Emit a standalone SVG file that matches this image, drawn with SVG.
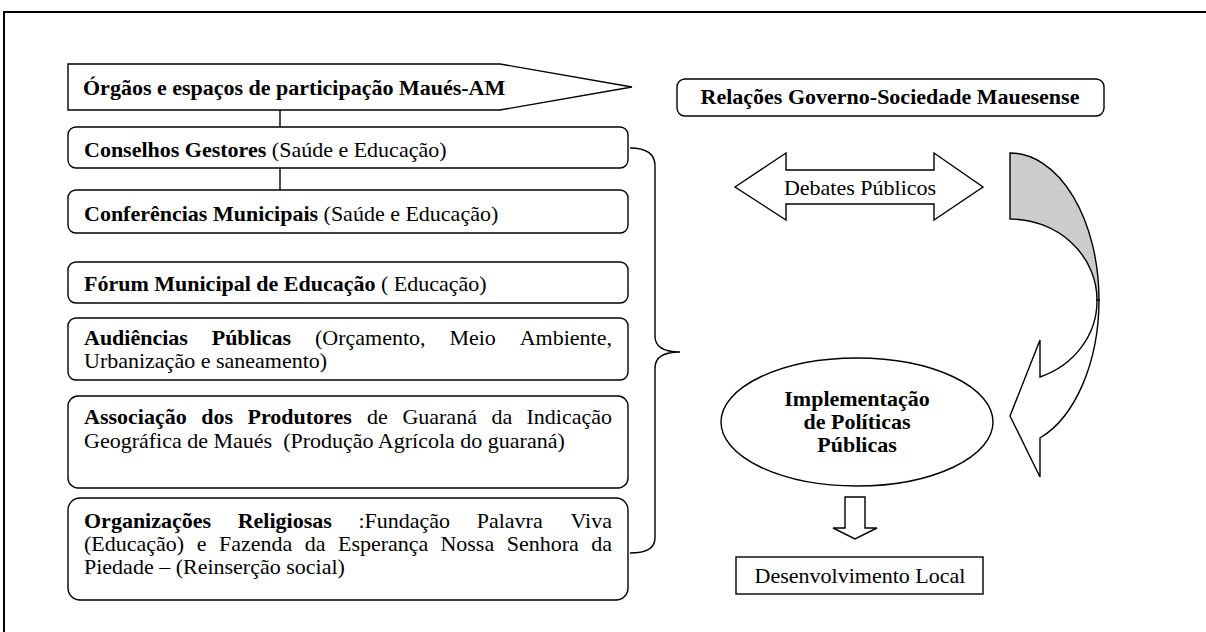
<svg xmlns="http://www.w3.org/2000/svg" width="1206" height="632" viewBox="0 0 1206 632">
<style>
.box{fill:#fff;stroke:#000;stroke-width:1.4}
.ln{fill:none;stroke:#000;stroke-width:1.4}
.t{font-family:"Liberation Serif","Times New Roman",serif;font-size:22px;fill:#000}
.b{font-weight:bold}
.c{text-anchor:middle}
.e{text-anchor:end}
</style>
<rect width="1206" height="632" fill="#fff"/>
<path d="M4,632 L4,12 L1206,12" fill="none" stroke="#000" stroke-width="2"/>

<g id="connectors">
<line class="ln" x1="280" y1="110" x2="280" y2="127"/>
<line class="ln" x1="280" y1="168" x2="280" y2="190"/>
<path id="brace" class="ln" d="M630,148 C646,148 655,153 655,166 L655,336 C655,347 664,352 680,352 C664,352 655,357 655,368 L655,538 C655,549 646,553 630,553"/>
</g>

<g id="orgaos">
<path class="box" d="M68,64 L500,64 L632,87 L500,110 L68,110 Z"/>
<text class="t b" x="83" y="95">Órgãos e espaços de participação Maués-AM</text>
</g>

<g id="conselhos">
<rect class="box" x="68" y="127" width="560" height="41" rx="8"/>
<text class="t" x="84" y="157"><tspan class="b">Conselhos Gestores</tspan> (Saúde e Educação)</text>
</g>

<g id="conferencias">
<rect class="box" x="68" y="190" width="560" height="43" rx="8"/>
<text class="t" x="84" y="221"><tspan class="b">Conferências Municipais</tspan> (Saúde e Educação)</text>
</g>

<g id="forum">
<rect class="box" x="68" y="262" width="560" height="41" rx="8"/>
<text class="t" x="84" y="291"><tspan class="b">Fórum Municipal de Educação</tspan> ( Educação)</text>
</g>

<g id="audiencias">
<rect class="box" x="68" y="318" width="560" height="62" rx="8"/>
<text class="t b" x="84" y="345">Audiências</text>
<text class="t b" x="211.7" y="345">Públicas</text>
<text class="t" x="315" y="345">(Orçamento,</text>
<text class="t" x="449.4" y="345">Meio</text>
<text class="t e" x="612" y="345">Ambiente,</text>
<text class="t" x="84" y="368">Urbanização e saneamento)</text>
</g>

<g id="associacao">
<rect class="box" x="68" y="396" width="560" height="92" rx="10"/>
<text class="t b" x="84" y="424">Associação</text>
<text class="t b" x="201.2" y="424">dos</text>
<text class="t b" x="247.5" y="424">Produtores</text>
<text class="t" x="367.1" y="424">de</text>
<text class="t" x="402.4" y="424">Guaraná</text>
<text class="t" x="491.4" y="424">da</text>
<text class="t e" x="612" y="424">Indicação</text>
<text class="t" x="84" y="448" xml:space="preserve">Geográfica de Maués  (Produção Agrícola do guaraná)</text>
</g>

<g id="organizacoes">
<rect class="box" x="68" y="498" width="560" height="102" rx="12"/>
<text class="t b" x="84" y="528">Organizações</text>
<text class="t b" x="237.7" y="528">Religiosas</text>
<text class="t" x="358.4" y="528">:Fundação</text>
<text class="t" x="476.7" y="528">Palavra</text>
<text class="t e" x="612" y="528">Viva</text>
<text class="t" x="84" y="551">(Educação)</text>
<text class="t" x="196.7" y="551">e</text>
<text class="t" x="218.9" y="551">Fazenda</text>
<text class="t" x="304.7" y="551">da</text>
<text class="t" x="338" y="551">Esperança</text>
<text class="t" x="440.4" y="551">Nossa</text>
<text class="t" x="506.7" y="551">Senhora</text>
<text class="t e" x="612" y="551">da</text>
<text class="t" x="84" y="574">Piedade – (Reinserção social)</text>
</g>

<g id="relacoes">
<rect class="box" x="677" y="79" width="427" height="37" rx="8"/>
<text class="t b c" x="890" y="104">Relações Governo-Sociedade Mauesense</text>
</g>

<g id="debates">
<path class="box" d="M735,187 L786,153 L786,170 L934,170 L934,153 L983,187 L934,220 L934,204 L786,204 L786,220 Z"/>
<text class="t c" x="860" y="195">Debates Públicos</text>
</g>

<g id="curved-arrow">
<path class="box" style="fill:#cccccc" d="M1010,153 A89,147 0 0 1 1099,300 L1097,300 A87,81 0 0 0 1010,219 Z"/>
<path class="box" d="M1099,300 A89,147 0 0 1 1040,438 L1040,477 L1010,416 L1040,340 L1040,377 A87,81 0 0 0 1097,300 Z"/>
</g>

<g id="implementacao">
<ellipse class="box" cx="857" cy="422" rx="136" ry="64"/>
<text class="t b c" x="857" y="406">Implementação</text>
<text class="t b c" x="857" y="429">de Políticas</text>
<text class="t b c" x="857" y="452">Públicas</text>
</g>

<g id="down-arrow">
<path class="box" d="M845,497 L865,497 L865,528 L877,528 L855,539 L833,528 L845,528 Z"/>
</g>

<g id="desenvolvimento">
<rect class="box" x="736" y="557" width="247" height="37"/>
<text class="t c" x="860" y="583">Desenvolvimento Local</text>
</g>
</svg>
